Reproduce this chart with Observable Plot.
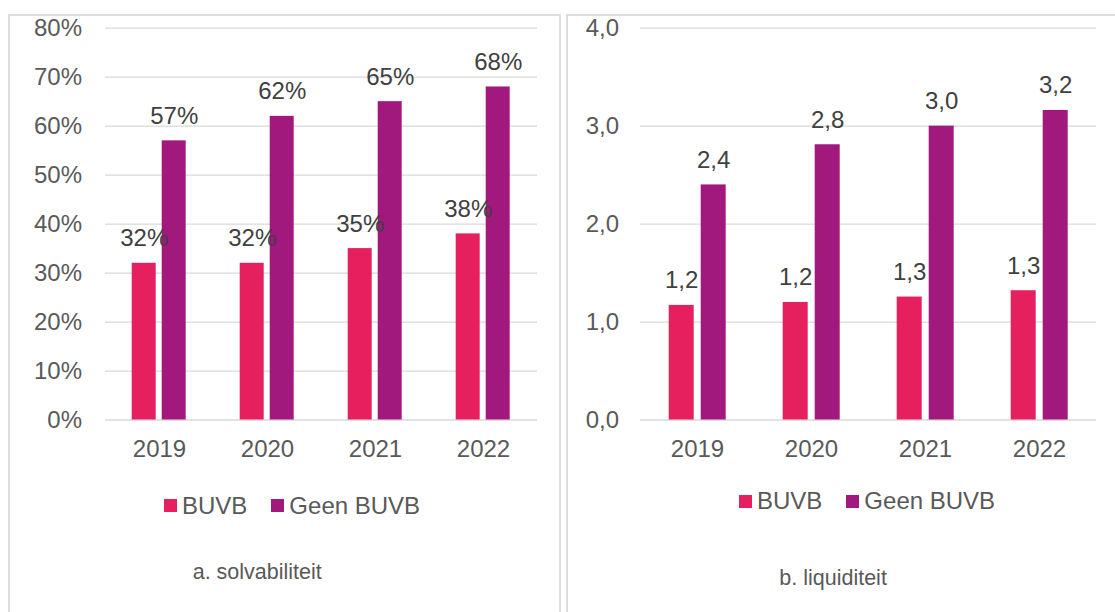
<!DOCTYPE html>
<html><head><meta charset="utf-8">
<script src="https://cdn.jsdelivr.net/npm/d3@7"></script>
<script src="https://cdn.jsdelivr.net/npm/@observablehq/plot@0.6"></script>
<style>
body{margin:0;background:#fff;font-family:"Liberation Sans",Arial,sans-serif;width:1115px;height:612px;overflow:hidden;position:relative}
.panel{position:absolute;top:14px;height:640px;border:2px solid #dedede;box-sizing:border-box}
.chart{position:absolute;top:0}
.legend{position:absolute;display:flex;align-items:center;font-size:24px;line-height:24px;color:#595959;white-space:nowrap}
.sw{width:13px;height:13px;margin-right:5px;flex:none}
.item{display:flex;align-items:center;margin-right:24px}
.caption{position:absolute;font-size:21.5px;line-height:21.5px;color:#595959;white-space:nowrap}
</style></head><body>
<div class="panel" style="left:8px;width:553px"></div>
<div class="panel" style="left:566px;width:560px"></div>
<div id="a" class="chart" style="left:0"></div>
<div id="b" class="chart" style="left:567px"></div>
<div id="legA" class="legend" style="left:164px;top:493.7px"></div>
<div id="legB" class="legend" style="left:739px;top:489px"></div>
<div class="caption" style="left:192.7px;top:561.8px">a. solvabiliteit</div>
<div class="caption" style="left:779.3px;top:567.8px">b. liquiditeit</div>
<script>
const years = ["2019", "2020", "2021", "2022"];
const series = ["BUVB", "Geen BUVB"];
const colors = ["#E6205F", "#A2197D"];
const solvBUVB = [0.32, 0.32, 0.35, 0.38];
const solvGeen = [0.57, 0.62, 0.65, 0.68];
const liqBUVB = [1.17, 1.20, 1.255, 1.32];
const liqGeen = [2.40, 2.81, 3.00, 3.16];
const solvTicks = [0, 0.1, 0.2, 0.3, 0.4, 0.5, 0.6, 0.7, 0.8];
const liqTicks = [0, 1, 2, 3, 4];

const pct = v => Math.round(v * 100) + "%";
const dec = v => v.toFixed(1).replace(".", ",");

function rowsOf(a, b) {
  return years.flatMap((y, i) => [
    {year: y, series: series[0], value: a[i]},
    {year: y, series: series[1], value: b[i]}
  ]);
}

function chart({rows, ticks, domain, fmt, width, marginLeft, marginRight, tickPad}) {
  return Plot.plot({
    width, height: 470,
    marginTop: 27.7, marginBottom: 50.5, marginLeft, marginRight,
    facet: {marginTop: 0, marginRight: 0, marginBottom: 0, marginLeft: 0},
    style: {fontFamily: "'Liberation Sans', Arial, sans-serif", fontSize: "24px", color: "#595959", background: "transparent", overflow: "visible"},
    fx: {domain: years, padding: 0, label: null, tickSize: 0, tickPadding: 19.5, axis: "bottom"},
    x: {domain: series, axis: null, paddingInner: 0.21, paddingOuter: 0.86},
    y: {domain, ticks, tickFormat: fmt, tickSize: 0, tickPadding: tickPad, label: null, grid: false},
    color: {domain: series, range: colors},
    marks: [
      Plot.ruleY(ticks, {stroke: "#d9d9d9", strokeWidth: 1.3}),
      Plot.barY(rows, {fx: "year", x: "series", y: "value", fill: "series"}),
      Plot.text(rows, {fx: "year", x: "series", y: "value", text: d => fmt(d.value), lineAnchor: "bottom", dy: -17, fill: "#404040", fontSize: 24})
    ]
  });
}

document.getElementById("a").append(chart({
  rows: rowsOf(solvBUVB, solvGeen), ticks: solvTicks, domain: [0, 0.8], fmt: pct,
  width: 560, marginLeft: 103.3, marginRight: 20.7, tickPad: 23.5
}));
document.getElementById("b").append(chart({
  rows: rowsOf(liqBUVB, liqGeen), ticks: liqTicks, domain: [0, 4], fmt: dec,
  width: 548, marginLeft: 71.3, marginRight: 18.3, tickPad: 21.5
}));

for (const id of ["legA", "legB"]) {
  const el = document.getElementById(id);
  series.forEach((s, i) => {
    const item = document.createElement("div");
    item.className = "item";
    const sw = document.createElement("span");
    sw.className = "sw";
    sw.style.background = colors[i];
    const t = document.createElement("span");
    t.textContent = s;
    item.append(sw, t);
    el.append(item);
  });
}
</script>
</body></html>
